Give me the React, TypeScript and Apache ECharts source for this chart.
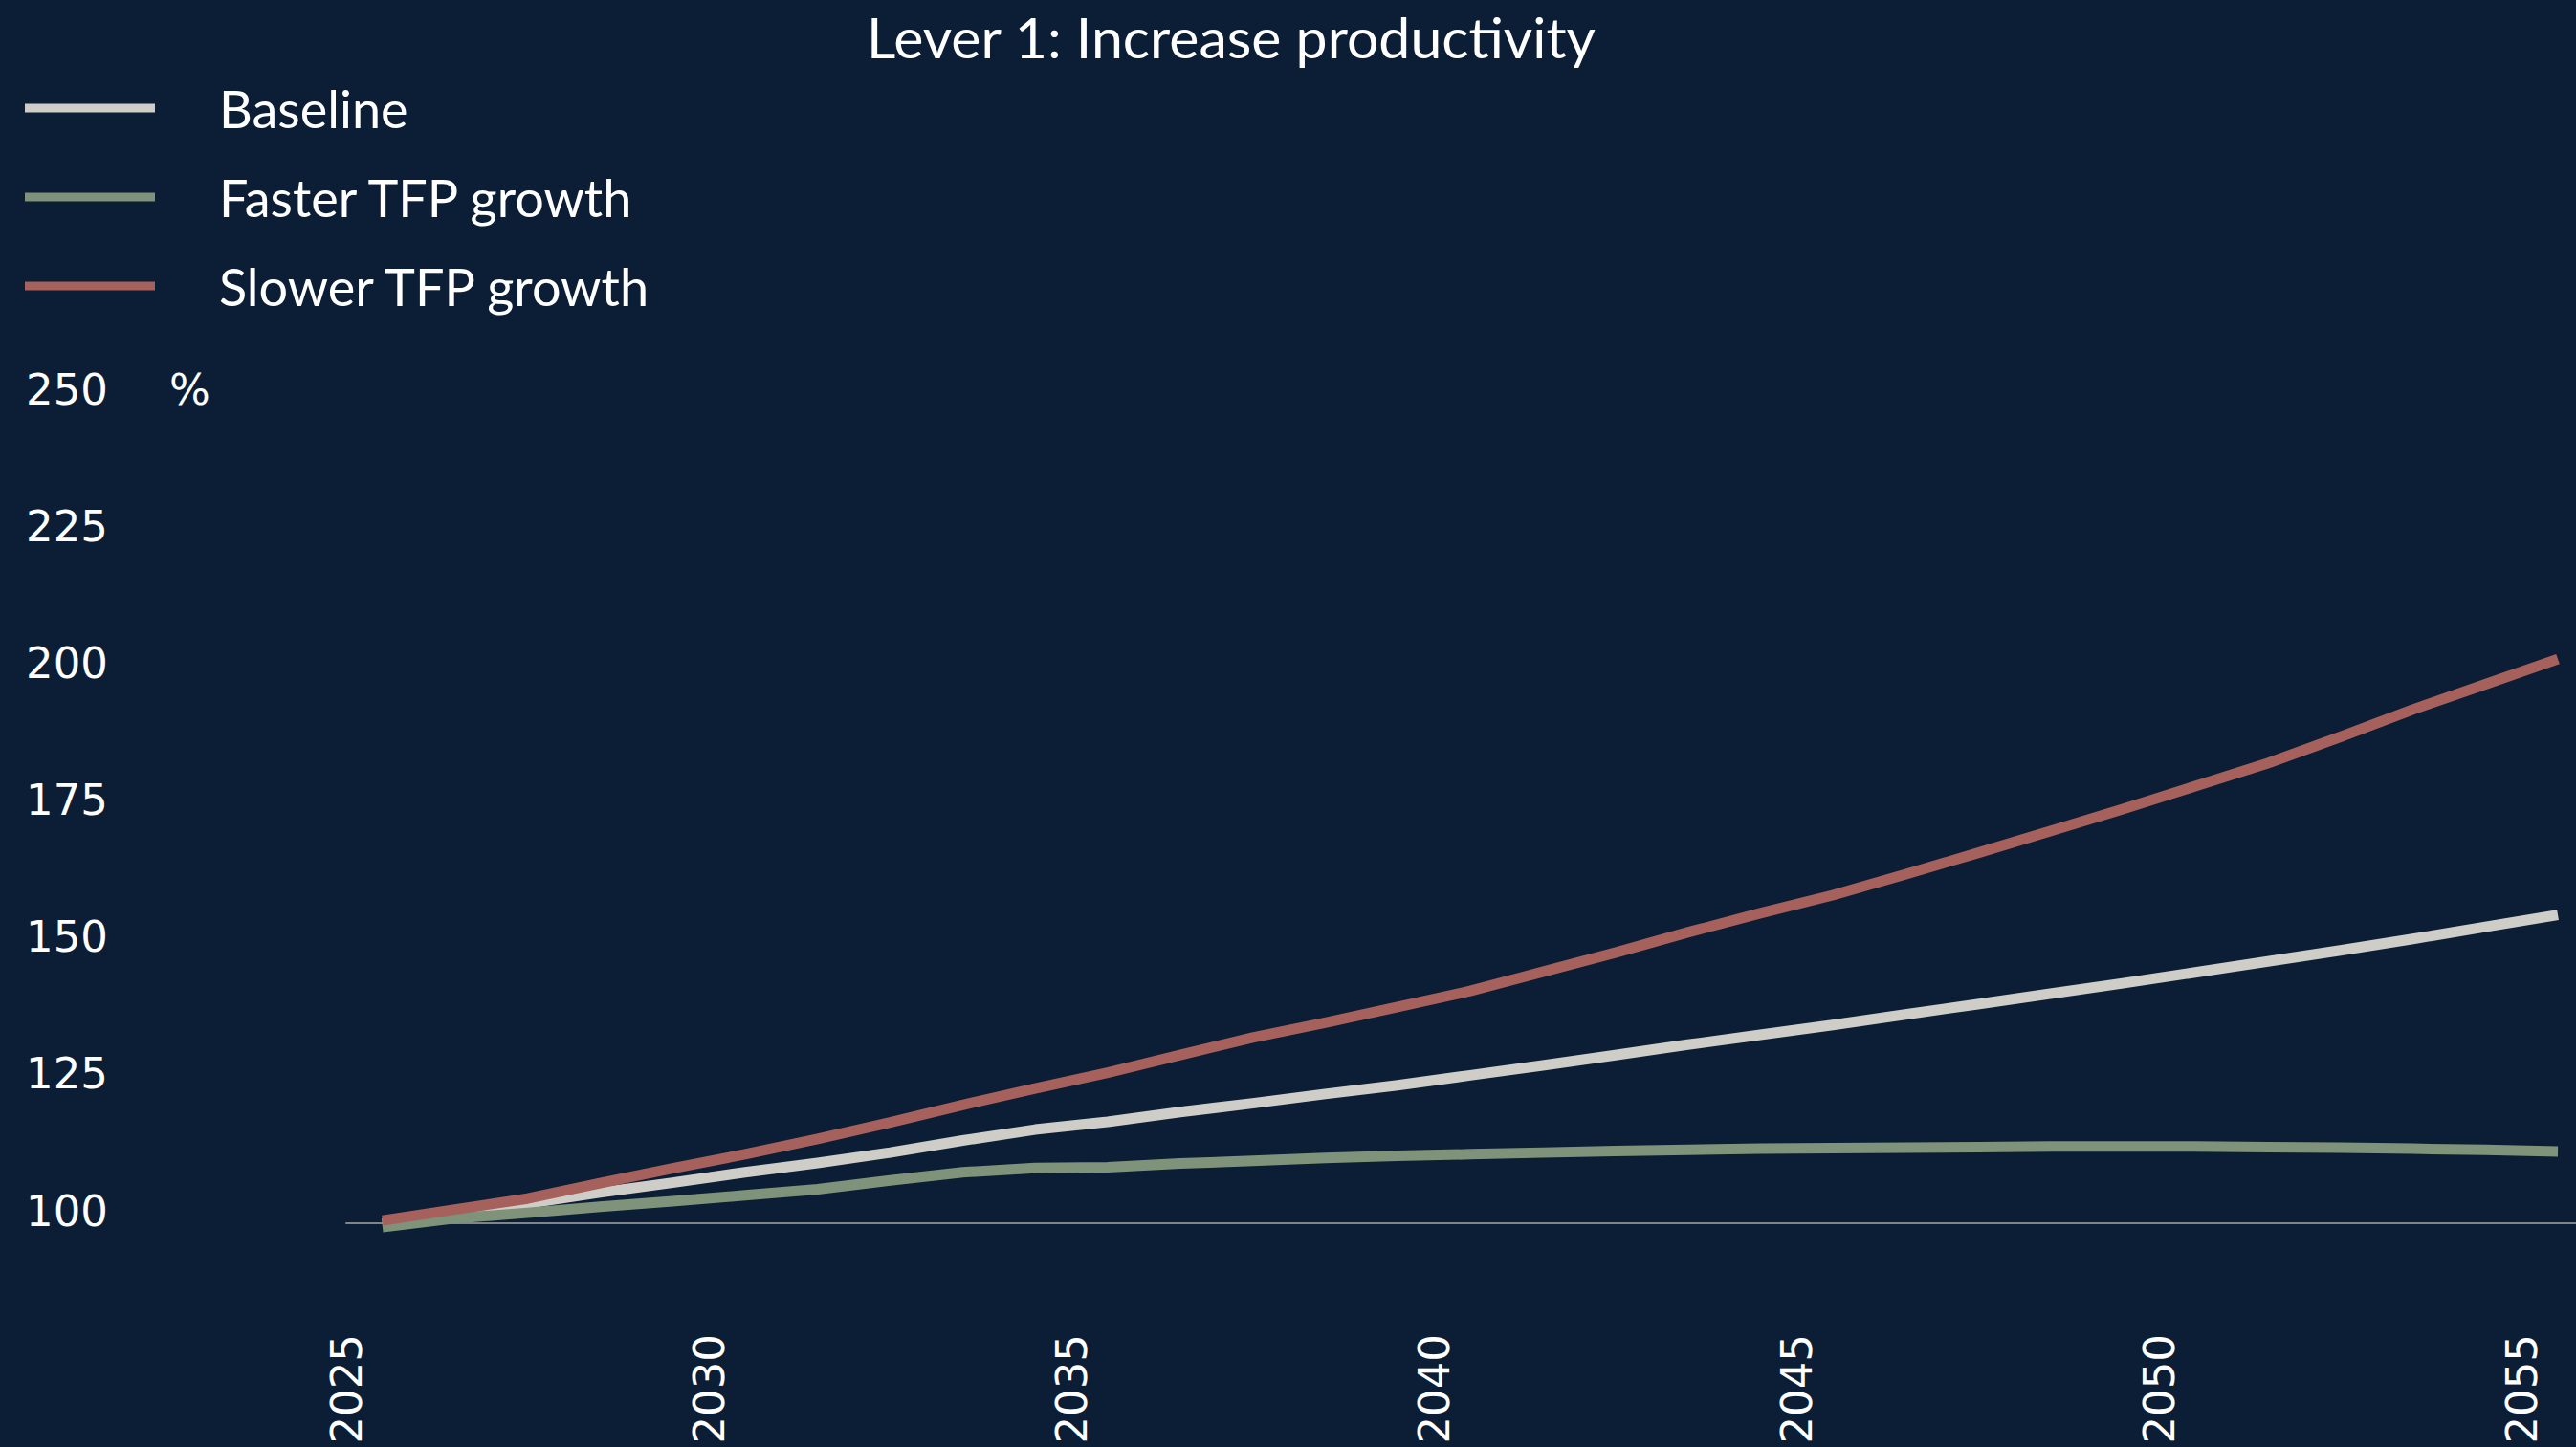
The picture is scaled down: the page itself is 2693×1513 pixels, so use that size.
import React, { useEffect, useRef } from "react";
import * as echarts from "echarts";

const TITLE = "Lever 1: Increase productivity";
const SERIES_NAMES = ["Baseline", "Faster TFP growth", "Slower TFP growth"];
const COLORS = ["#cfcdc8", "#7f937a", "#a6615d"];

// annual observations, plotted at mid-year
const years = [
  2025, 2026, 2027, 2028, 2029, 2030, 2031, 2032, 2033, 2034, 2035, 2036, 2037, 2038, 2039, 2040,
  2041, 2042, 2043, 2044, 2045, 2046, 2047, 2048, 2049, 2050, 2051, 2052, 2053, 2054, 2055,
];

const baseline = [
  99.9, 101.8, 103.6, 105.6, 107.4, 109.3, 111.0, 112.9, 115.1, 117.1, 118.5, 120.3, 121.9, 123.6, 125.2, 127.0,
  128.8, 130.7, 132.6, 134.4, 136.2, 138.1, 140.0, 141.9, 143.8, 145.8, 147.8, 149.8, 151.9, 154.1, 156.3,
];

const fasterTfp = [
  99.3, 100.9, 101.9, 103.0, 104.0, 105.1, 106.2, 107.8, 109.3, 110.1, 110.2, 110.9, 111.4, 111.9, 112.3, 112.6,
  112.9, 113.2, 113.4, 113.6, 113.7, 113.8, 113.9, 114.0, 114.0, 114.0, 113.9, 113.8, 113.6, 113.4, 113.1,
];

const slowerTfp = [
  100.5, 102.5, 104.5, 107.3, 110.0, 112.6, 115.4, 118.4, 121.6, 124.6, 127.5, 130.7, 133.9, 136.6, 139.5, 142.4,
  145.9, 149.4, 153.1, 156.6, 159.9, 163.7, 167.6, 171.6, 175.6, 179.8, 184.0, 188.8, 193.8, 198.4, 203.0,
];

const Y_MIN = 100;
const Y_MAX = 250;
const Y_STEP = 25;
const X_MIN = 2025;
const X_MAX = 2055.75;
const X_STEP = 5;

export default function App() {
  const ref = useRef<HTMLDivElement>(null);

  useEffect(() => {
    if (!ref.current) return;
    const chart = echarts.init(ref.current, null, { renderer: "svg" });
    const allSeries = [baseline, fasterTfp, slowerTfp];
    const labelFont = "DejaVu Sans, sans-serif";
    const textFont = "Lato, Open Sans, sans-serif";

    chart.setOption({
      animation: false,
      backgroundColor: "#0b1e35",
      legend: {
        data: SERIES_NAMES,
        orient: "vertical",
        left: 21,
        top: 78,
        itemWidth: 136,
        itemHeight: 9,
        itemGap: 33,
        icon: "rect",
        textStyle: {
          color: "#ffffff",
          fontFamily: textFont,
          fontSize: 54,
          lineHeight: 60,
          padding: [0, 0, 0, 62],
        },
      },
      graphic: [
        {
          type: "text",
          x: 1287,
          y: 38,
          style: {
            text: TITLE,
            fill: "#ffffff",
            font: `59px ${textFont}`,
            align: "center",
            verticalAlign: "middle",
          },
        },
        {
          type: "text",
          x: 177,
          y: 407,
          style: {
            text: "%",
            fill: "#ffffff",
            font: `45px ${labelFont}`,
            align: "left",
            verticalAlign: "middle",
          },
        },
      ],
      grid: { left: 362, right: 0, top: 420, bottom: 234, containLabel: false },
      xAxis: {
        type: "value",
        min: X_MIN,
        max: X_MAX,
        interval: X_STEP,
        axisLine: { show: true, lineStyle: { color: "#80858b", width: 2 } },
        axisTick: { show: false },
        splitLine: { show: false },
        axisLabel: {
          rotate: 90,
          margin: 116,
          color: "#ffffff",
          fontFamily: labelFont,
          fontSize: 45,
          showMaxLabel: false,
          formatter: (v: number) => (v % X_STEP === 0 ? String(v) : ""),
        },
      },
      yAxis: {
        type: "value",
        min: Y_MIN,
        max: Y_MAX,
        interval: Y_STEP,
        axisLine: { show: false },
        axisTick: { show: false },
        splitLine: { show: false },
        axisLabel: {
          color: "#ffffff",
          fontFamily: labelFont,
          fontSize: 45,
          align: "left",
          margin: 335,
          verticalAlign: "bottom",
          lineHeight: 26,
        },
      },
      series: SERIES_NAMES.map((name, i) => ({
        name,
        type: "line",
        data: years.map((y, k) => [y + 0.5, allSeries[i][k]]),
        showSymbol: false,
        symbol: "none",
        clip: false,
        color: COLORS[i],
        lineStyle: { color: COLORS[i], width: 11, cap: "butt", join: "round" },
        itemStyle: { color: COLORS[i] },
      })),
    });

    return () => chart.dispose();
  }, []);

  return (
    <div
      ref={ref}
      style={{ position: "fixed", left: 0, top: 0, width: 2693, height: 1513 }}
    />
  );
}
